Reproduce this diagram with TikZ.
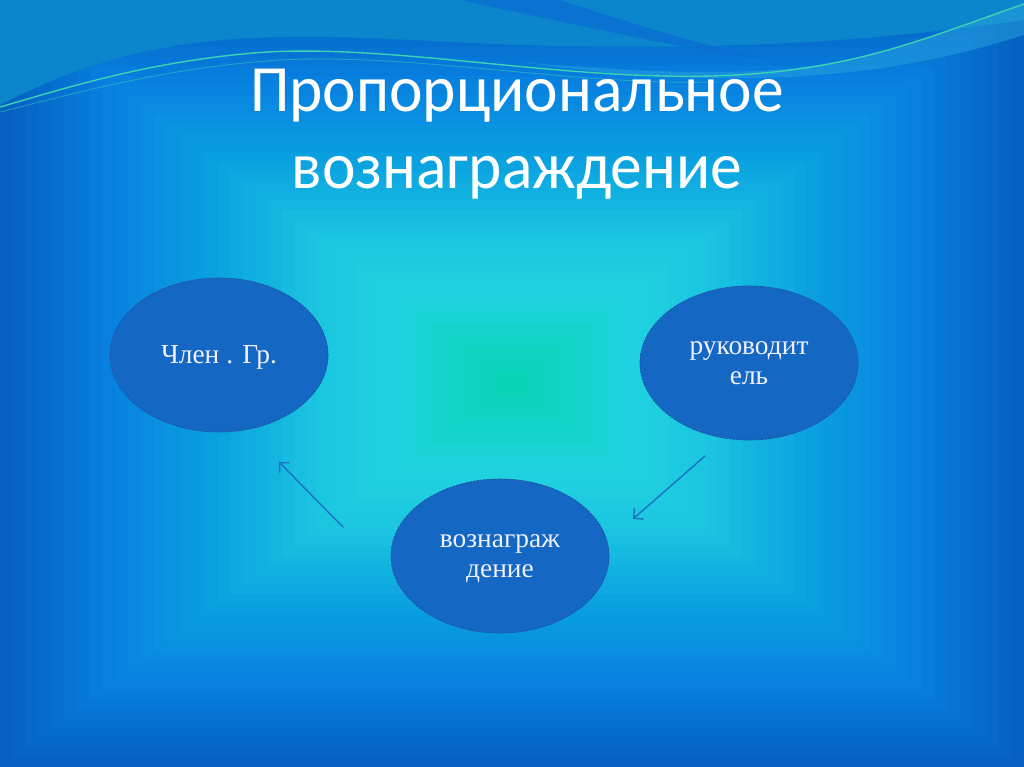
\documentclass[tikz,border=0pt]{standalone}
\usepackage{fontspec}
\setmainfont{Liberation Serif}
\newfontfamily\titlefont[FakeStretch=0.96]{Carlito}
\usetikzlibrary{arrows.meta,shapes.geometric}
\definecolor{bgA}{HTML}{0560C0}
\definecolor{bgB}{HTML}{0880E0}
\definecolor{bgC}{HTML}{0AA0E0}
\definecolor{bgD}{HTML}{1AC4E0}
\definecolor{bgE}{HTML}{20D2E0}
\definecolor{bgF}{HTML}{06D4B0}
\definecolor{wavetop}{HTML}{0B86CC}
\definecolor{waveband}{HTML}{0A6ED2}
\definecolor{wavelight}{HTML}{2AA4DE}
\definecolor{waveline}{HTML}{3CD2B4}
\definecolor{ovalfill}{HTML}{1468C4}
\definecolor{ovalline}{HTML}{1C55A0}
\definecolor{arrowblue}{HTML}{2070C2}
\tikzset{
  oval/.style={ellipse,draw=ovalline,fill=ovalfill,dash pattern=on 1.5pt off 1pt,line width=0.5pt,
    minimum width=5.45cm,minimum height=3.85cm,inner sep=0pt,text depth=0pt,text=white!94!blue,
    align=center,font=\fontsize{19.5}{21}\selectfont},
  flow/.style={arrowblue,line width=1pt,-{Straight Barb[length=5pt,width=10pt]}},
  title/.style={white,anchor=base,font=\titlefont\fontsize{47}{55}\selectfont}
}
\begin{document}
\begin{tikzpicture}[x=0.025cm,y=-0.025cm,line cap=round,line join=round]
\useasboundingbox (0,0) rectangle (1024,767);
% background
\fill[bgA] (0,0) rectangle (1024,767);
\foreach \sa/\sb/\ca/\cb in {1/0.8/bgA/bgB,0.8/0.6/bgB/bgC,0.6/0.4/bgC/bgD,0.4/0.25/bgD/bgE,0.25/0/bgE/bgF} {
  \foreach \k in {0,...,7} {
    \pgfmathsetmacro\s{\sa-(\sa-\sb)*\k/8}
    \pgfmathtruncatemacro\p{\k*100/8}
    \fill[\cb!\p!\ca] ({512-512*\s},{383-384*\s}) rectangle ({512+512*\s},{383+384*\s});
  }
}
% waves
\fill[wavetop] (0,0) -- (1024,0) -- (1024,20) .. controls (850,45) and (700,50) .. (520,45)
  .. controls (380,40) and (250,25) .. (130,55) .. controls (70,70) and (30,90) .. (0,105) -- cycle;
\fill[waveband,opacity=0.8] (460,0) -- (560,0) .. controls (620,20) and (700,45) .. (770,60)
  .. controls (690,50) and (600,30) .. (460,0) -- cycle;
\fill[wavelight,opacity=0.5] (520,62) .. controls (700,78) and (800,75) .. (880,52)
  .. controls (940,35) and (990,15) .. (1024,5) -- (1024,35) .. controls (960,55) and (880,75) .. (760,78)
  .. controls (650,80) and (580,70) .. (520,62) -- cycle;
\draw[waveline,line width=1pt] (0,107) .. controls (60,90) and (150,60) .. (267,52)
  .. controls (400,45) and (560,80) .. (712,76) .. controls (850,72) and (920,40) .. (1024,4);
\draw[waveline,opacity=0.5,line width=0.6pt] (0,112) .. controls (70,95) and (160,68) .. (280,60)
  .. controls (420,53) and (570,86) .. (720,82);
% title
\node[title] (title1) at (517,112) {Пропорциональное};
\node[title] (title2) at (517,189) {вознаграждение};
% ovals
\node[oval] (member) at (219,355) {Член . Гр.};
\node[oval] (leader) at (749,363) {руководит\\ель};
\node[oval] (reward) at (500,556) {вознаграж\\дение};
% arrows
\coordinate (leaderout) at (705,456);
\coordinate (rewardin) at (633,519);
\coordinate (rewardout) at (343,527);
\coordinate (memberin) at (279,462);
\draw[flow] (leaderout) -- (rewardin);
\draw[flow] (rewardout) -- (memberin);
\end{tikzpicture}
\end{document}
